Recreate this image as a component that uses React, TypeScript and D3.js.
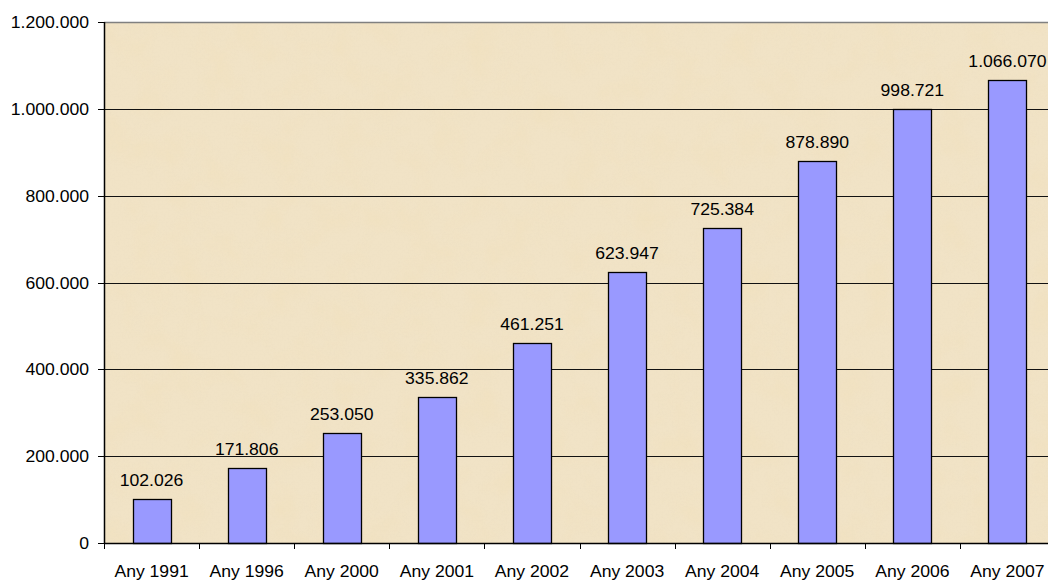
import React from "react";
import * as d3 from "d3";

const categories = ["Any 1991", "Any 1996", "Any 2000", "Any 2001", "Any 2002", "Any 2003", "Any 2004", "Any 2005", "Any 2006", "Any 2007"];
const values = [102026, 171806, 253050, 335862, 461251, 623947, 725384, 878890, 998721, 1066070];
const yTicks = [0, 200000, 400000, 600000, 800000, 1000000, 1200000];

const W = 1048;
const H = 580;
const left = 104;
const top = 22;
const bottom = 543;
const right = 104 + 95.1 * 10;

const locale = d3.formatLocale({ decimal: ",", thousands: ".", grouping: [3], currency: ["", "€"] });
const fmt = locale.format(",d");

const SX = 1.1;
const FONT = "'Liberation Sans', Arial, sans-serif";

function T({ x, y, anchor, children }: { x: number; y: number; anchor: string; children: React.ReactNode }) {
  return (
    <text
      transform={`translate(${x},${y}) scale(${SX},1)`}
      textAnchor={anchor}
      fontFamily={FONT}
      fontSize={16}
      fill="#000"
    >
      {children}
    </text>
  );
}

export default function App() {
  const x = d3.scaleBand<string>().domain(categories).range([left, right]).paddingInner(0.6).paddingOuter(0.3);
  const y = d3.scaleLinear().domain([0, 1200000]).range([bottom, top]);
  const step = x.step();

  return (
    <svg width={W} height={H} style={{ position: "absolute", left: 0, top: 0, background: "#fff" }}>
      <defs>
        <filter id="paper" x="0" y="0" width="100%" height="100%">
          <feTurbulence type="fractalNoise" baseFrequency="0.03" numOctaves={4} seed={3} result="n" />
          <feColorMatrix
            in="n"
            type="matrix"
            values="0 0 0 0 0.88  0 0 0 0 0.74  0 0 0 0 0.48  0 0 0 1.6 -0.7"
          />
        </filter>
        <filter id="grain" x="0" y="0" width="100%" height="100%">
          <feTurbulence type="fractalNoise" baseFrequency="0.5" numOctaves={2} seed={7} result="g" />
          <feColorMatrix
            in="g"
            type="matrix"
            values="0 0 0 0 0.75  0 0 0 0 0.66  0 0 0 0 0.5  0 0 0 0.9 -0.3"
          />
        </filter>
        <clipPath id="plotclip">
          <rect x={left} y={top} width={right - left} height={bottom - top} />
        </clipPath>
      </defs>

      <g clipPath="url(#plotclip)">
        <rect x={left} y={top} width={right - left} height={bottom - top} fill="#f1e3c6" />
        <rect x={left} y={top} width={right - left} height={bottom - top} filter="url(#paper)" opacity={0.5} />
        <rect x={left} y={top} width={right - left} height={bottom - top} filter="url(#grain)" opacity={0.22} />
      </g>

      {/* gridlines */}
      {yTicks.slice(1, -1).map((t) => (
        <line key={t} x1={left} x2={W} y1={Math.round(y(t)) + 0.5} y2={Math.round(y(t)) + 0.5} stroke="#111" strokeWidth={1} />
      ))}
      <line x1={left} x2={W} y1={top + 0.5} y2={top + 0.5} stroke="#808080" strokeWidth={1.5} />

      {/* bars */}
      {values.map((v, i) => (
        <rect
          key={categories[i]}
          x={Math.round(x(categories[i])!) + 0.5}
          y={Math.round(y(v)) + 0.5}
          width={Math.round(x.bandwidth())}
          height={Math.round(y(0)) - Math.round(y(v))}
          fill="#9999ff"
          stroke="#000"
          strokeWidth={1.3}
        />
      ))}

      {/* value labels */}
      {values.map((v, i) => (
        <T key={"l" + i} x={x(categories[i])! + x.bandwidth() / 2} y={y(v) - 13} anchor="middle">
          {fmt(v)}
        </T>
      ))}

      {/* axes */}
      <line x1={left + 0.5} x2={left + 0.5} y1={top} y2={bottom} stroke="#000" strokeWidth={1.5} />
      <line x1={left} x2={W} y1={bottom + 0.5} y2={bottom + 0.5} stroke="#000" strokeWidth={1.5} />
      {yTicks.map((t) => (
        <g key={"yt" + t}>
          <line x1={left - 6} x2={left} y1={Math.round(y(t)) + 0.5} y2={Math.round(y(t)) + 0.5} stroke="#000" />
          <T x={89} y={y(t) + 6} anchor="end">
            {fmt(t)}
          </T>
        </g>
      ))}
      {d3.range(0, 11).map((i) => (
        <line
          key={"xt" + i}
          x1={Math.round(left + i * step) + 0.5}
          x2={Math.round(left + i * step) + 0.5}
          y1={bottom}
          y2={bottom + 6}
          stroke="#000"
        />
      ))}
      {categories.map((c) => (
        <T key={"xl" + c} x={x(c)! + x.bandwidth() / 2} y={577} anchor="middle">
          {c}
        </T>
      ))}
    </svg>
  );
}
